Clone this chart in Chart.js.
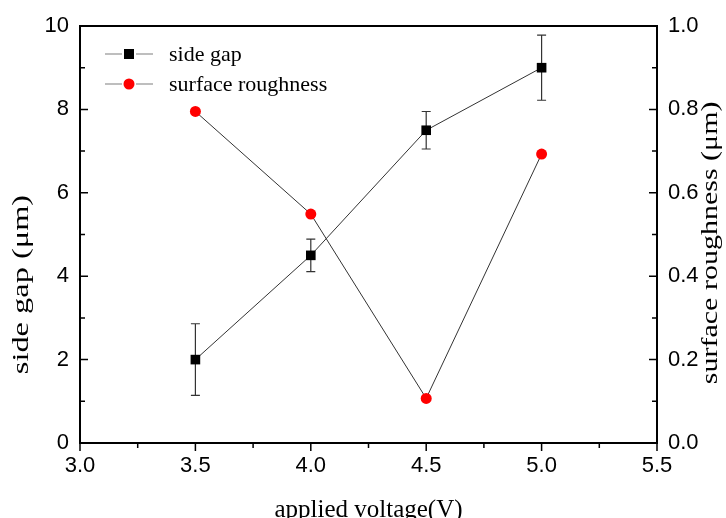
<!DOCTYPE html>
<html><head><meta charset="utf-8">
<script src="https://cdn.jsdelivr.net/npm/chart.js@4.4.0/dist/chart.umd.min.js"></script>
<style>html,body{margin:0;padding:0;background:#fff}#wrap{width:726px;height:518px}</style>
</head><body><div id="wrap"><canvas id="c" width="726" height="518"></canvas></div>
<script>
// ---- data ----
const voltages = [3.5, 4.0, 4.5, 5.0];
const sideGap = [2.0, 4.5, 7.5, 9.0];
const sideGapErr = [0.86, 0.39, 0.45, 0.78];
const roughness = [0.795, 0.549, 0.107, 0.693];
const xTicks = [3.0, 3.5, 4.0, 4.5, 5.0, 5.5];
const leftTicks = [0, 2, 4, 6, 8, 10];
const rightTicks = [0.0, 0.2, 0.4, 0.6, 0.8, 1.0];
const xTitle = 'applied voltage(V)';
const leftTitle = 'side gap (μm)';
const rightTitle = 'surface roughness (μm)';
const seriesLabels = ['side gap', 'surface roughness'];

const TICK_FONT = {family: "'Liberation Sans', Arial, sans-serif", size: 22};
const SERIF = "'Liberation Serif', 'Times New Roman', serif";

function minorsOf(arr){
  const out = [];
  for (let i = 0; i < arr.length - 1; i++) out.push((arr[i] + arr[i+1]) / 2);
  return out;
}

const frameAndTicks = {
  id: 'frameAndTicks',
  afterDraw(chart){
    const {ctx, chartArea: a, scales} = chart;
    ctx.save();
    ctx.strokeStyle = '#000';
    ctx.lineWidth = 1.5;
    ctx.beginPath();
    xTicks.forEach(v => { const p = scales.x.getPixelForValue(v); ctx.moveTo(p, a.bottom); ctx.lineTo(p, a.bottom + 8); });
    minorsOf(xTicks).forEach(v => { const p = scales.x.getPixelForValue(v); ctx.moveTo(p, a.bottom); ctx.lineTo(p, a.bottom + 5); });
    leftTicks.forEach(v => { const p = scales.y.getPixelForValue(v); ctx.moveTo(a.left, p); ctx.lineTo(a.left + 8, p); });
    minorsOf(leftTicks).forEach(v => { const p = scales.y.getPixelForValue(v); ctx.moveTo(a.left, p); ctx.lineTo(a.left + 5, p); });
    rightTicks.forEach(v => { const p = scales.y1.getPixelForValue(v); ctx.moveTo(a.right, p); ctx.lineTo(a.right - 8, p); });
    minorsOf(rightTicks).forEach(v => { const p = scales.y1.getPixelForValue(v); ctx.moveTo(a.right, p); ctx.lineTo(a.right - 5, p); });
    ctx.stroke();
    ctx.lineWidth = 2;
    ctx.strokeRect(a.left, a.top, a.right - a.left, a.bottom - a.top);

    // vertical axis titles (stretched like the original)
    function vtext(text, cx, cy, stretch){
      ctx.save();
      ctx.translate(cx, cy);
      ctx.rotate(-Math.PI / 2);
      ctx.scale(stretch, 1);
      ctx.font = '24px ' + SERIF;
      ctx.fillStyle = '#000';
      ctx.textAlign = 'center';
      ctx.textBaseline = 'middle';
      ctx.fillText(text, 0, 0);
      ctx.restore();
    }
    vtext(leftTitle, a.left - 58, scales.y.getPixelForValue(3.8), 1.35);
    vtext(rightTitle, a.right + 54, scales.y1.getPixelForValue(0.48), 1.25);

    // legend
    const lx = a.left + 25, ly = a.top + 28, gap = 30;
    chart.data.datasets.forEach((ds, i) => {
      const yy = ly + i * gap;
      ctx.strokeStyle = '#7f7f7f';
      ctx.lineWidth = 1.2;
      ctx.beginPath();
      ctx.moveTo(lx, yy); ctx.lineTo(lx + 17, yy);
      ctx.moveTo(lx + 31, yy); ctx.lineTo(lx + 48, yy);
      ctx.stroke();
      ctx.fillStyle = ds.pointBackgroundColor;
      if (ds.pointStyle === 'rect') { ctx.fillRect(lx + 19, yy - 5, 10, 10); }
      else { ctx.beginPath(); ctx.arc(lx + 24, yy, 5.5, 0, Math.PI * 2); ctx.fill(); }
      ctx.fillStyle = '#000';
      ctx.font = '22px ' + SERIF;
      ctx.textAlign = 'left';
      ctx.textBaseline = 'middle';
      ctx.fillText(ds.label, lx + 64, yy + 1);
    });
    ctx.restore();
  }
};

const errorBars = {
  id: 'errorBars',
  beforeDatasetsDraw(chart){
    const {ctx, scales} = chart;
    ctx.save();
    ctx.strokeStyle = '#333';
    ctx.lineWidth = 1.2;
    ctx.beginPath();
    voltages.forEach((v, i) => {
      const px = scales.x.getPixelForValue(v);
      const top = scales.y.getPixelForValue(sideGap[i] + sideGapErr[i]);
      const bot = scales.y.getPixelForValue(sideGap[i] - sideGapErr[i]);
      ctx.moveTo(px, top); ctx.lineTo(px, bot);
      ctx.moveTo(px - 4.5, top); ctx.lineTo(px + 4.5, top);
      ctx.moveTo(px - 4.5, bot); ctx.lineTo(px + 4.5, bot);
    });
    ctx.stroke();
    ctx.restore();
  }
};

new Chart(document.getElementById('c'), {
  type: 'line',
  data: {
    datasets: [
      {
        label: seriesLabels[0],
        data: voltages.map((v, i) => ({x: v, y: sideGap[i]})),
        yAxisID: 'y',
        borderColor: '#333', borderWidth: 1,
        pointStyle: 'rect', pointRadius: 6.8, pointBorderWidth: 0,
        pointBackgroundColor: '#000', pointBorderColor: '#000',
        tension: 0
      },
      {
        label: seriesLabels[1],
        data: voltages.map((v, i) => ({x: v, y: roughness[i]})),
        yAxisID: 'y1',
        borderColor: '#333', borderWidth: 1,
        pointStyle: 'circle', pointRadius: 5.5, pointBorderWidth: 0,
        pointBackgroundColor: '#ff0000', pointBorderColor: '#ff0000',
        tension: 0
      }
    ]
  },
  options: {
    responsive: false,
    animation: false,
    devicePixelRatio: 1,
    layout: {padding: {top: 26, left: 0, right: 0, bottom: 0}},
    plugins: {legend: {display: false}, tooltip: {enabled: false}},
    scales: {
      x: {
        type: 'linear', min: 3.0, max: 5.5,
        afterFit(s){ s.height = 75; },
        afterBuildTicks(s){ s.ticks = xTicks.map(v => ({value: v})); },
        ticks: {font: TICK_FONT, color: '#000', padding: 10, maxRotation: 0, callback: v => v.toFixed(1)},
        grid: {display: false, drawTicks: false},
        border: {display: false},
        title: {display: true, text: xTitle, color: '#000', font: {family: SERIF, size: 25}, padding: {top: 0, bottom: -7}}
      },
      y: {
        position: 'left', min: 0, max: 10,
        afterFit(s){ s.width = 80; },
        afterBuildTicks(s){ s.ticks = leftTicks.map(v => ({value: v})); },
        ticks: {font: TICK_FONT, color: '#000', padding: 11, callback: v => String(v)},
        grid: {display: false, drawTicks: false},
        border: {display: false}
      },
      y1: {
        position: 'right', min: 0, max: 1,
        afterFit(s){ s.width = 69; },
        afterBuildTicks(s){ s.ticks = rightTicks.map(v => ({value: v})); },
        ticks: {font: TICK_FONT, color: '#000', padding: 11, callback: v => v.toFixed(1)},
        grid: {display: false, drawTicks: false},
        border: {display: false}
      }
    }
  },
  plugins: [errorBars, frameAndTicks]
});
</script></body></html>
